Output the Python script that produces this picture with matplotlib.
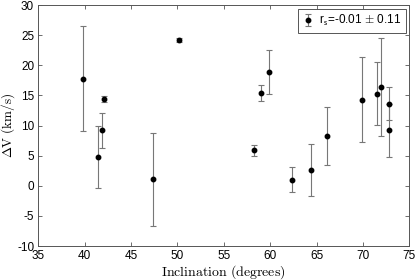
import matplotlib
matplotlib.use("Agg")
import matplotlib.pyplot as plt
import numpy as np

plt.rcParams['font.family'] = ['Liberation Sans', 'DejaVu Sans']
plt.rcParams['mathtext.fontset'] = 'cm'
plt.rcParams['axes.unicode_minus'] = False

# inclination (deg), delta V (km/s), error (km/s)
incl = [39.85, 41.45, 41.85, 42.05, 47.35, 50.15,
        58.25, 59.05, 59.85, 62.35, 64.45, 66.15,
        69.95, 71.55, 71.95, 72.85, 72.85]
dv = [17.8, 4.8, 9.2, 14.4, 1.1, 24.2,
      5.9, 15.4, 18.9, 1.0, 2.6, 8.3,
      14.3, 15.3, 16.4, 13.6, 9.2]
dv_err = [8.7, 5.1, 2.9, 0.5, 7.7, 0.4,
          0.9, 1.3, 3.6, 2.05, 4.3, 4.8,
          7.0, 5.2, 8.1, 2.75, 4.4]

fig = plt.figure(figsize=(4.15, 2.8), dpi=100)
ax = fig.add_axes([0.0923, 0.1214, 0.8940, 0.8607])

ax.errorbar(incl, dv, yerr=dv_err, fmt='o', color='black', ms=3.2,
            ecolor='#777777', elinewidth=0.8, capsize=2, capthick=0.8,
            label=r'r$_\mathsf{s}$=-0.01 $\pm$ 0.11')

ax.set_xlim(35, 75)
ax.set_ylim(-10, 30)
ax.set_xticks(np.arange(35, 76, 5))
ax.set_yticks(np.arange(-10, 31, 5))
ax.tick_params(direction='in', top=True, right=True, labelsize=8.5,
               length=3, width=0.6, color='#555555', pad=3)
for sp in ax.spines.values():
    sp.set_color('#555555')
    sp.set_linewidth(0.7)

ax.set_xlabel(r'$\mathrm{Inclination\ (degrees)}$', fontsize=10, labelpad=1)
ax.set_ylabel(r'$\Delta\mathrm{V\ (km/s)}$', fontsize=9.5)
ax.yaxis.set_label_coords(-0.058, 0.5)

leg = ax.legend(loc='upper right', fontsize=8.5, fancybox=False,
                framealpha=1, handlelength=1.0, handletextpad=0.4,
                borderpad=0.4, borderaxespad=0.3)
leg.get_frame().set_edgecolor('#555555')
leg.get_frame().set_linewidth(0.7)

fig.savefig('out.png', dpi=100)
